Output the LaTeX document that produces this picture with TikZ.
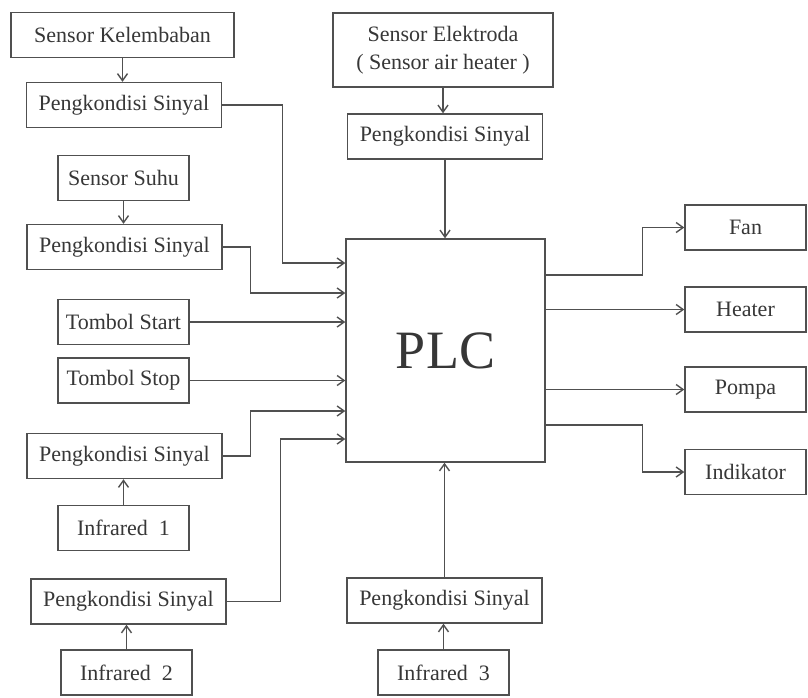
\documentclass[tikz,border=0pt]{standalone}
\usepackage{fontspec}
\setmainfont{Liberation Serif}
\usepackage{xcolor}
\definecolor{ColLine}{RGB}{80,80,80}
\definecolor{ColText}{RGB}{55,55,55}
\usepackage{tikz}
\usetikzlibrary{arrows.meta}
\tikzstyle{Block}=[draw=ColLine,line width=.7pt,text=ColText,
minimum height=22.5pt,inner sep=1pt,font=\fontsize{11}{14}\selectfont]
\tikzstyle{Small}=[Block,minimum width=65.5pt]
\tikzstyle{Cond}=[Block,minimum width=97.5pt]
\tikzstyle{Out}=[Block,minimum width=60.5pt]
\tikzstyle{Edge}=[draw=ColLine,line width=.7pt,
-{Straight Barb[length=3.5pt,width=5pt]}]

\begin{document}
\begin{tikzpicture}[x=.5pt,y=-.5pt]
            \useasboundingbox[fill=white](0,0)rectangle(808,697);
            \node[Block,minimum width=111.5pt](lembab)at(122.5,35)
                {Sensor Kelembaban};
            \node[Cond](condA)at(124,105){Pengkondisi Sinyal};
            \node[Small](suhu)at(123.5,178){Sensor Suhu};
            \node[Cond](condB)at(124.5,247){Pengkondisi Sinyal};
            \node[Small](start)at(123.5,322){Tombol Start};
            \node[Small](stop)at(123.5,380.5){Tombol Stop};
            \node[Cond](condC)at(124.5,456){Pengkondisi Sinyal};
            \node[Small](ir1)at(123.5,528){Infrared\ \ 1};
            \node[Cond](condD)at(128.5,601.5){Pengkondisi Sinyal};
            \node[Small](ir2)at(126.5,672.5){Infrared\ \ 2};
            \node[Block,minimum width=110pt,minimum height=37pt,
                align=center](elek)at(443,50)
                {Sensor Elektroda\\( Sensor air heater )};
            \node[Cond](condE)at(445,136.5){Pengkondisi Sinyal};
            \node[Block,minimum width=99.5pt,minimum height=111.5pt,
                font=\fontsize{27}{30}\selectfont](plc)at(445.5,350.5){PLC};
            \node[Cond](condF)at(444.5,600.5){Pengkondisi Sinyal};
            \node[Small](ir3)at(443.5,672.5){Infrared\ \ 3};
            \node[Out](fan)at(745.5,227.5){Fan};
            \node[Out](heater)at(745.5,309.5){Heater};
            \node[Out](pompa)at(745.5,389.5){Pompa};
            \node[Out](indikator)at(745.5,472){Indikator};
            %
            \draw[Edge](lembab.south)--(lembab.south|-condA.north);
            \draw[Edge](suhu.south)--(suhu.south|-condB.north);
            \draw[Edge](ir1.north)--(ir1.north|-condC.south);
            \draw[Edge](ir2.north)--(ir2.north|-condD.south);
            \draw[Edge](elek.south)--(elek.south|-condE.north);
            \draw[Edge](condE.south)--(condE.south|-plc.north);
            \draw[Edge](ir3.north)--(ir3.north|-condF.south);
            \draw[Edge](condF.north)--(condF.north|-plc.south);
            %
            \draw[Edge](condA.east)--++(60,0)|-([yshift=43.75pt]plc.west);
            \draw[Edge](condB.east)--++(28,0)|-([yshift=28.75pt]plc.west);
            \draw[Edge](start.east)--(start.east-|plc.west);
            \draw[Edge](stop.east)--(stop.east-|plc.west);
            \draw[Edge](condC.east)--++(28,0)|-([yshift=-30.25pt]plc.west);
            \draw[Edge](condD.east)--++(54,0)|-([yshift=-44.25pt]plc.west);
            %
            \draw[Edge]([yshift=37.75pt]plc.east)--++(97,0)|-(fan.west);
            \draw[Edge](heater.west-|plc.east)--(heater.west);
            \draw[Edge](pompa.west-|plc.east)--(pompa.west);
            \draw[Edge]([yshift=-37.25pt]plc.east)--++(97,0)|-(indikator.west);
        \end{tikzpicture}
\end{document}
